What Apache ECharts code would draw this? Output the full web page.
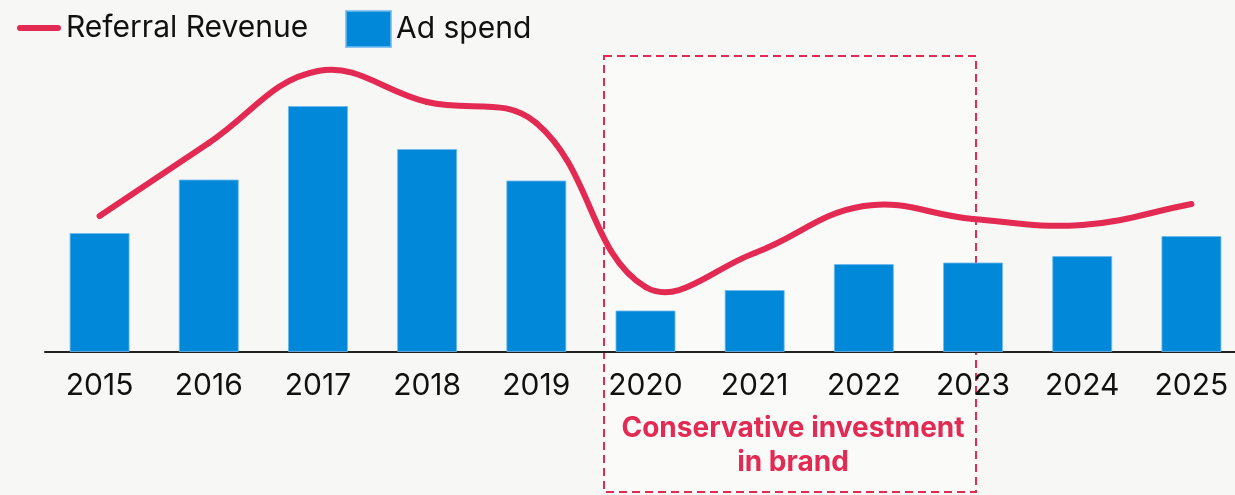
<!DOCTYPE html>
<html>
<head>
<meta charset="utf-8">
<script src="https://cdn.jsdelivr.net/npm/echarts@6/dist/echarts.min.js"></script>
<style>
  html, body { margin: 0; padding: 0; background: #f7f7f5; overflow: hidden; }
  #chart { width: 1246px; height: 495px; }
</style>
</head>
<body>
<div id="chart"></div>
<script>
// Years on the category axis
const years = ['2015', '2016', '2017', '2018', '2019', '2020', '2021', '2022', '2023', '2024', '2025'];
// Referral revenue (index units)
const referralRevenue = [136, 209, 281, 250, 229, 65, 99, 146, 133, 127, 148];
// Ad spend (index units)
const adSpend = [119, 172.5, 246, 203, 171.5, 41.5, 62, 88, 89.5, 96, 116];

const RED = '#e32a53';
const BLUE = '#0288d8';
const FONT = 'Inter';
const TENSION = 0.4;

const chart = echarts.init(document.getElementById('chart'), null, { renderer: 'canvas' });

// Cardinal-style spline: control points weighted by neighbouring segment lengths.
function controlPoints(api, k) {
  const n = referralRevenue.length;
  const pt = j => api.coord([j, referralRevenue[j]]);
  const prev = pt(Math.max(k - 1, 0));
  const cur = pt(k);
  const next = pt(Math.min(k + 1, n - 1));
  const d01 = Math.hypot(cur[0] - prev[0], cur[1] - prev[1]);
  const d12 = Math.hypot(next[0] - cur[0], next[1] - cur[1]);
  const sum = d01 + d12 || 1;
  const fa = TENSION * d01 / sum;
  const fb = TENSION * d12 / sum;
  const vx = next[0] - prev[0];
  const vy = next[1] - prev[1];
  return {
    point: cur,
    cpIn: [cur[0] - fa * vx, cur[1] - fa * vy],
    cpOut: [cur[0] + fb * vx, cur[1] + fb * vy]
  };
}

function renderRevenueSegment(params, api) {
  const i = params.dataIndex;
  if (i >= referralRevenue.length - 1) return null;
  const a = controlPoints(api, i);
  const b = controlPoints(api, i + 1);
  return {
    type: 'bezierCurve',
    shape: {
      x1: a.point[0], y1: a.point[1],
      cpx1: a.cpOut[0], cpy1: a.cpOut[1],
      cpx2: b.cpIn[0], cpy2: b.cpIn[1],
      x2: b.point[0], y2: b.point[1]
    },
    style: { stroke: RED, lineWidth: 6, lineCap: 'round', fill: null }
  };
}

chart.setOption({
  backgroundColor: '#f7f7f5',
  animation: false,
  textStyle: { fontFamily: FONT },
  legend: [
    {
      left: 12,
      top: 8,
      itemWidth: 44,
      itemHeight: 6,
      textStyle: { fontFamily: FONT, fontSize: 30, color: '#111' },
      data: [{ name: 'Referral Revenue', icon: 'path://M3,0 L41,0 A3,3 0 0 1 41,6 L3,6 A3,3 0 0 1 3,0 Z' }]
    },
    {
      left: 340,
      top: 5,
      itemWidth: 45,
      itemHeight: 36,
      textStyle: { fontFamily: FONT, fontSize: 30, color: '#111', padding: [0, 0, 6, 0] },
      data: [{ name: 'Ad spend', icon: 'rect' }]
    }
  ],
  grid: { left: 45, right: 0, top: 52, height: 300, containLabel: false },
  xAxis: {
    type: 'category',
    data: years,
    axisLine: { lineStyle: { color: '#222', width: 2 } },
    axisTick: { show: false },
    axisLabel: { fontFamily: FONT, fontSize: 30, color: '#111', margin: 19 }
  },
  yAxis: {
    type: 'value',
    min: 0,
    max: 300,
    show: false,
    splitLine: { show: false }
  },
  graphic: [
    {
      type: 'rect',
      z: 0,
      shape: { x: 604, y: 56, width: 372, height: 436 },
      style: {
        fill: 'rgba(255,255,255,0.35)',
        stroke: RED,
        lineWidth: 2,
        lineDash: [8, 5]
      }
    },
    {
      type: 'text',
      z: 10,
      style: {
        x: 793,
        y: 446,
        text: 'Conservative investment\nin brand',
        fill: RED,
        font: '700 28px ' + FONT,
        align: 'center',
        verticalAlign: 'middle',
        lineHeight: 34
      }
    }
  ],
  series: [
    {
      name: 'Ad spend',
      type: 'bar',
      data: adSpend,
      barWidth: 60,
      itemStyle: { color: BLUE, borderColor: 'rgba(110,185,238,0.8)', borderWidth: 1 },
      z: 2
    },
    {
      name: 'Referral Revenue',
      type: 'custom',
      data: referralRevenue.map((v, i) => [i, v]),
      encode: { x: 0, y: 1 },
      renderItem: renderRevenueSegment,
      itemStyle: { color: RED },
      z: 3
    }
  ]
});
</script>
</body>
</html>
